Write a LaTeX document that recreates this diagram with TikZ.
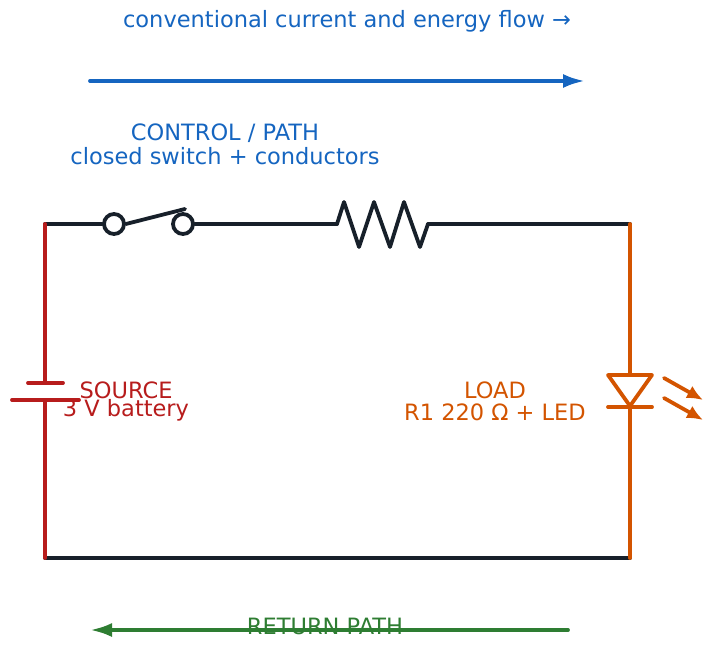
\documentclass[tikz,border=0pt]{standalone}
\usepackage{fontspec}
\setmainfont{DejaVu Sans}
\usetikzlibrary{arrows.meta}
\definecolor{cblue}{HTML}{1565C0}
\definecolor{cred}{HTML}{B71C1C}
\definecolor{corange}{HTML}{D35400}
\definecolor{cgreen}{HTML}{2E7D32}
\definecolor{cdark}{HTML}{17202A}
\tikzset{
  wire/.style={line width=3.8pt, line cap=round, line join=round},
  lbl/.style={font=\fontsize{22.5}{26}\selectfont, inner sep=0pt, align=center},
  flow/.style={wire, -{Latex[length=22pt,width=14pt]}}
}
\begin{document}
\begin{tikzpicture}[x=1pt,y=-1pt]
  \useasboundingbox (0,0) rectangle (715,655);

  % corners and terminals
  \coordinate (tl) at (45,224);
  \coordinate (tr) at (630,224);
  \coordinate (bl) at (45,558);
  \coordinate (br) at (630,558);
  \coordinate (bplus) at (45,383);
  \coordinate (bminus) at (45,400);
  \coordinate (la) at (630,375);
  \coordinate (lk) at (630,407);
  \node (s1) at (114,224) [circle, draw=cdark, line width=3.8pt, minimum size=20pt, inner sep=0pt] {};
  \node (s2) at (183,224) [circle, draw=cdark, line width=3.8pt, minimum size=20pt, inner sep=0pt] {};
  \coordinate (r1) at (337,224);
  \coordinate (r2) at (428,224);

  % top wire
  \draw [wire, cdark] (tl) -- (s1.west);
  \draw [wire, cdark] (s1.east) -- (185,209);
  \draw [wire, cdark] (s2.east) -- (r1);
  \draw [wire, cdark] (r1) -- (344,202) -- (359,247) -- (374,202) -- (390,247)
    -- (404,202) -- (420,247) -- (r2);
  \draw [wire, cdark] (r2) -- (tr);
  \draw [wire, cdark] (bl) -- (br);

  % source
  \draw [wire, cred] (tl) -- (bplus);
  \draw [wire, cred] (bminus) -- (bl);
  \draw [wire, cred] (28,383) -- (63,383);
  \draw [wire, cred] (12,400) -- (79,400);

  % load
  \draw [wire, corange] (tr) -- (la);
  \draw [wire, corange] (lk) -- (br);
  \draw [wire, corange] (608,375) -- (652,375) -- (630,406) -- cycle;
  \draw [wire, corange] (608,407) -- (652,407);
  \draw [wire, corange, -{Latex[length=16pt,width=14pt]}] (664,378) -- (703,400);
  \draw [wire, corange, -{Latex[length=16pt,width=14pt]}] (664,398) -- (703,420);

  % flows
  \coordinate (f1) at (90,81);
  \coordinate (f2) at (585,81);
  \coordinate (g1) at (568,630);
  \coordinate (g2) at (90,630);
  \draw [flow, cblue] (f1) -- (f2);
  \draw [flow, cgreen] (g1) -- (g2);

  \node (title) at (347,21) [lbl, text=cblue] {conventional current and energy flow →};
  \node (ctrl) at (225,133) [lbl, text=cblue] {CONTROL / PATH};
  \node (ctrl2) at (225,156) [lbl, text=cblue] {closed switch + conductors};
  \node (src) at (126,390) [lbl, text=cred] {SOURCE};
  \node (src2) at (126,410) [lbl, text=cred] {3 V battery};
  \node (load) at (495,390) [lbl, text=corange] {LOAD};
  \node (load2) at (495,412) [lbl, text=corange] {R1 220 Ω + LED};
  \node (ret) at (325,626) [lbl, text=cgreen] {RETURN PATH};

\end{tikzpicture}
\end{document}
